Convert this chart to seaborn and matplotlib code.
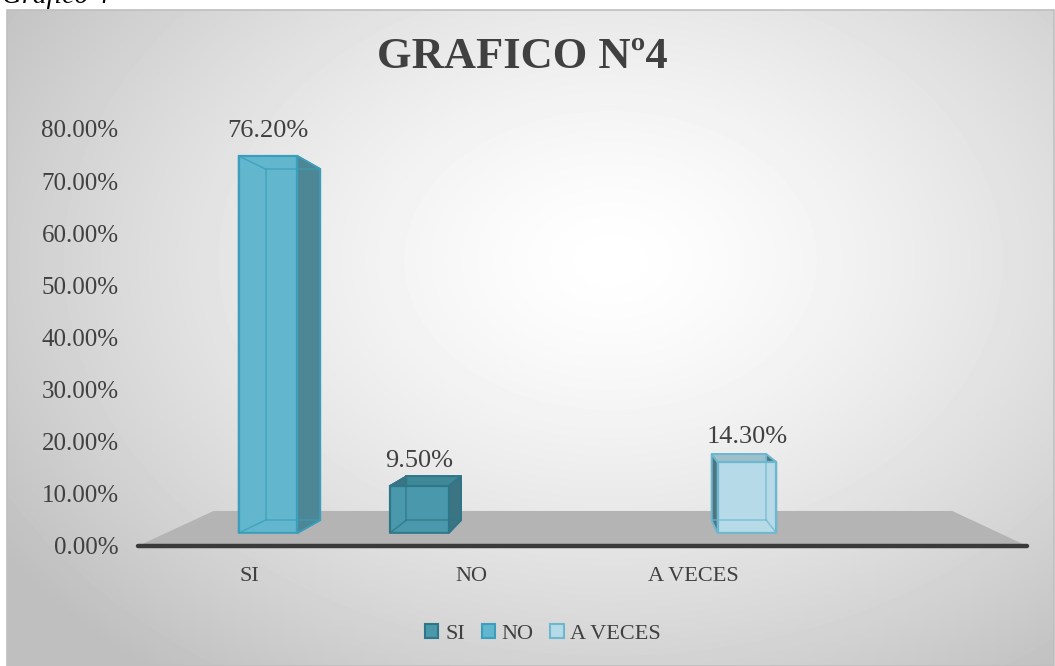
import numpy as np
import pandas as pd
import matplotlib
matplotlib.use('Agg')
import matplotlib.pyplot as plt
import matplotlib.colors as mcolors
import seaborn as sns
from matplotlib.patches import Polygon, Rectangle, Patch
from matplotlib.transforms import IdentityTransform

# ---------------- data ----------------
categories = ['SI', 'NO', 'A VECES']
values = [76.2, 9.5, 14.3]
bar_series = ['NO', 'SI', 'A VECES']      # legend series whose colour each bar carries
series = ['SI', 'NO', 'A VECES']
y_ticks = [0, 10, 20, 30, 40, 50, 60, 70, 80]
title = 'GRAFICO Nº4'
caption = 'Gráfico 4'

# ---------------- style ----------------
W, H, DPI = 1055, 666, 100
sns.set_theme(style='white')
plt.rcParams['font.family'] = ['Liberation Serif', 'DejaVu Serif']
TXT = '#404040'

main = {'SI': '#4a98ab', 'NO': '#62b6cd', 'A VECES': '#b6dae7'}
edge = {'SI': '#2f7688', 'NO': '#3b9eba', 'A VECES': '#6db8d0'}
side = {'SI': '#3b7483', 'NO': '#4d8694', 'A VECES': '#4e7580'}
topc = {'SI': '#3f8898', 'NO': '#5aa6bc', 'A VECES': '#9ec0cb'}

fig = plt.figure(figsize=(W / DPI, H / DPI), dpi=DPI)
fig.patch.set_facecolor('white')


def px_axes(l, t, r, b):
    return [l / W, 1 - b / H, (r - l) / W, (b - t) / H]


# background with radial gradient
bg = fig.add_axes(px_axes(7, 10, W - 1, H), zorder=0)
gx, gy = np.meshgrid(np.arange(7, W - 1), np.arange(10, H))
d = np.sqrt(((gx - 610) / 650) ** 2 + ((gy - 260) / 470) ** 2)
val = 255 - 64 * np.clip(d / 1.12, 0, 1) ** 1.4
bg.imshow(val, cmap='gray', vmin=0, vmax=255, aspect='auto',
          extent=(0, 1, 0, 1), interpolation='bilinear')
bg.set_xlim(0, 1)
bg.set_ylim(0, 1)
bg.set_axis_off()
bg.add_patch(Rectangle((0, 0), 1, 1, transform=bg.transAxes, fill=False,
                       edgecolor='#bfbfbf', lw=1.2, clip_on=False))

# tick / floor axes
axt = fig.add_axes(px_axes(138, 129, 1027, 546), zorder=1)
axt.patch.set_alpha(0)
axt.set_xlim(-0.5, 3.5)
axt.set_ylim(0, 80)
for s in axt.spines.values():
    s.set_visible(False)
axt.set_yticks(y_ticks)
axt.set_yticklabels([f'{t:.2f}%' for t in y_ticks], fontsize=18, color=TXT)
axt.set_xticks(range(len(categories)))
axt.set_xticklabels(categories, fontsize=16, color=TXT)
axt.tick_params(axis='y', length=0, pad=14)
axt.tick_params(axis='x', length=0, pad=15)

axt.add_patch(Polygon([(0, 0), (1, 0), (0.916, 0.084), (0.085, 0.084)], closed=True,
                      transform=axt.transAxes, facecolor='#b4b4b4', edgecolor='none',
                      clip_on=False, zorder=1))
axt.plot([0, 1], [0, 0], transform=axt.transAxes, color='#3a3a3a', lw=3.2,
         solid_capstyle='round', clip_on=False, zorder=2)

# bars axes
axb = fig.add_axes(px_axes(138, 129, 1027, 533), zorder=2)
df = pd.DataFrame({'category': categories, 'value': values, 'series': bar_series})
sns.barplot(data=df, x='category', y='value', hue='series', order=categories,
            hue_order=series, palette=main, dodge=True, width=0.84, saturation=1,
            legend=False, ax=axb)
axb.set_xlim(-0.619, 3.613)
axb.set_ylim(0, 81.66)
axb.set_axis_off()

fig.canvas.draw()
vp = axb.transAxes.transform((0.553, 0.465))
K = 0.931
ident = IdentityTransform()

for p in list(axb.patches):
    fc = mcolors.to_hex(p.get_facecolor())
    s = [k for k, v in main.items() if v == fc][0]
    x0, y0, w, h = p.get_x(), p.get_y(), p.get_width(), p.get_height()
    F = axb.transData.transform([(x0, y0), (x0 + w, y0), (x0 + w, y0 + h), (x0, y0 + h)])
    B = vp + K * (F - vp)
    faces = [
        ([B[0], B[1], B[2], B[3]], side[s]),
        ([F[0], F[1], B[1], B[0]], topc[s]),
        ([F[3], F[2], B[2], B[3]], topc[s]),
        ([F[0], F[3], B[3], B[0]], side[s]),
        ([F[1], F[2], B[2], B[1]], side[s]),
    ]
    for pts, c in faces:
        axb.add_patch(Polygon(pts, closed=True, transform=ident, facecolor=c,
                              edgecolor=edge[s], lw=1.2, clip_on=False, zorder=2))
    p.set_zorder(3)
    p.set_edgecolor(edge[s])
    p.set_linewidth(1.6)
    # see-through edges
    segs = [(B[0], B[1]), (B[1], B[2]), (B[2], B[3]), (B[3], B[0])] + \
           [(F[i], B[i]) for i in range(4)]
    for a, b in segs:
        axb.plot([a[0], b[0]], [a[1], b[1]], transform=ident, color=edge[s],
                 lw=1.1, alpha=0.75, clip_on=False, zorder=4)
    axb.annotate(f'{h:.2f}%', xy=(x0 + w / 2, h), xytext=(0, 18),
                 textcoords='offset points', ha='center', va='center',
                 fontsize=19, color=TXT, zorder=5)

# legend
handles = [Patch(facecolor=main[s], edgecolor=edge[s], lw=1.5, label=s) for s in series]
fig.legend(handles=handles, loc='center', bbox_to_anchor=(543 / W, 1 - 634 / H), ncol=3,
           frameon=False, fontsize=16, handlelength=0.6, handleheight=0.6,
           handletextpad=0.3, columnspacing=0.75, labelcolor=TXT)

# titles
fig.text(522 / W, 1 - 68 / H, title, ha='center', va='baseline', fontsize=32,
         fontweight='bold', color=TXT)
fig.text(2 / W, 1 - 3 / H, caption, ha='left', va='baseline', fontsize=20,
         style='italic', color='#000000')

fig.savefig('out.png', dpi=DPI)
